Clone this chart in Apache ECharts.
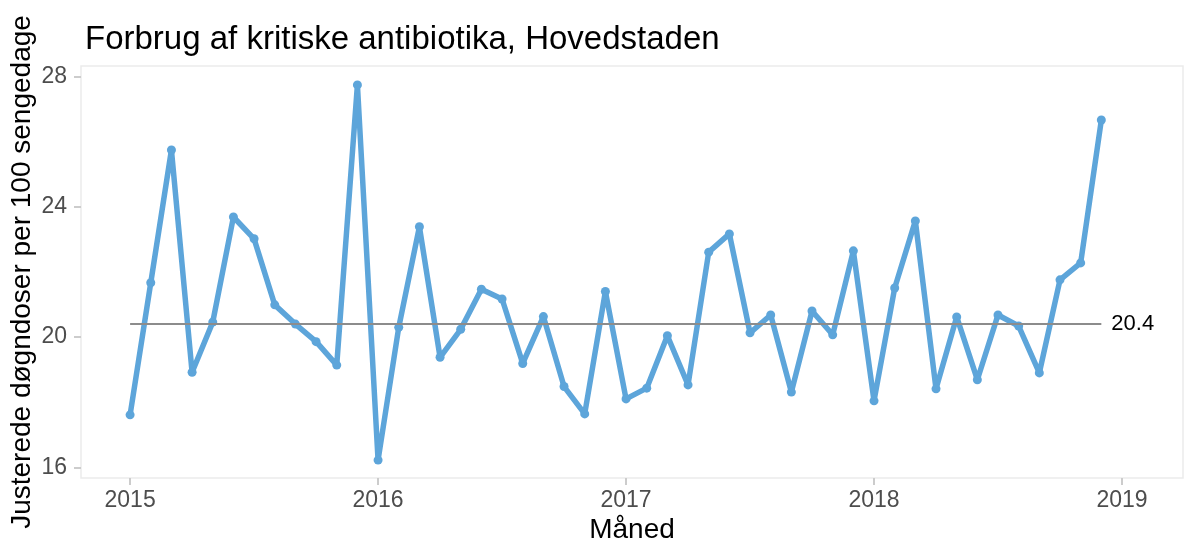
<!DOCTYPE html>
<html>
<head>
<meta charset="utf-8">
<script src="https://cdn.jsdelivr.net/npm/echarts@6/dist/echarts.min.js"></script>
<style>
  html, body { margin: 0; padding: 0; background: #fff; }
  #chart { width: 1184px; height: 551px; }
</style>
</head>
<body>
<div id="chart"></div>
<script>
// monthly values Jan 2015 - Dec 2018
var startYear = 2015;
var values = [
    17.61, 21.67, 25.75, 18.92, 20.46, 23.69, 23.02, 20.99, 20.40, 19.86, 19.14, 27.75,
    16.22, 20.30, 23.39, 19.38, 20.24, 21.47, 21.17, 19.19, 20.63, 18.48, 17.64, 21.40,
    18.10, 18.43, 20.04, 18.53, 22.61, 23.17, 20.13, 20.68, 18.31, 20.80, 20.07, 22.65,
    18.04, 21.51, 23.57, 18.41, 20.62, 18.69, 20.68, 20.34, 18.90, 21.76, 22.28, 26.67
];
var median = 20.4;
var xTicks = [2015, 2016, 2017, 2018, 2019];
var yTicks = [16, 20, 24, 28];

var seriesData = values.map(function (v, i) {
    return [startYear + i / 12, v];
});
var lastX = startYear + (values.length - 1) / 12;

var font = 'Liberation Sans, Arial, sans-serif';
var lineColor = '#5DA5DA';

var chart = echarts.init(document.getElementById('chart'));
var option = {
    animation: false,
    title: {
        text: 'Forbrug af kritiske antibiotika, Hovedstaden',
        left: 80,
        top: 18,
        textStyle: { fontFamily: font, fontSize: 33, fontWeight: 'normal', color: '#000' }
    },
    grid: {
        left: 81, right: 1, top: 66, bottom: 73,
        containLabel: false,
        outerBoundsMode: 'none',
        show: true, borderColor: '#ebebeb', borderWidth: 1.5, backgroundColor: '#fff'
    },
    xAxis: {
        type: 'value',
        min: 2014.802,
        max: 2019.246,
        name: 'Måned',
        nameLocation: 'middle',
        nameGap: 38,
        nameMoveOverlap: false,
        nameTextStyle: { fontFamily: font, fontSize: 28, color: '#000' },
        axisLine: { show: false },
        axisTick: { show: true, length: 7, lineStyle: { color: '#cccccc', width: 2 }, customValues: xTicks },
        axisLabel: {
            fontFamily: font, fontSize: 23, color: '#4d4d4d', margin: 11, customValues: xTicks,
            formatter: function (v) { return String(Math.round(v)); }
        },
        splitLine: { show: false }
    },
    yAxis: {
        type: 'value',
        min: 15.67,
        max: 28.33,
        name: 'Justerede døgndoser per 100 sengedage',
        nameLocation: 'middle',
        nameGap: 45,
        nameMoveOverlap: false,
        nameTextStyle: { fontFamily: font, fontSize: 28, color: '#000' },
        axisLine: { show: false },
        axisTick: { show: true, length: 7, lineStyle: { color: '#cccccc', width: 2 }, customValues: yTicks },
        axisLabel: { fontFamily: font, fontSize: 23, color: '#4d4d4d', margin: 14, customValues: yTicks },
        splitLine: { show: false }
    },
    series: [{
        type: 'line',
        data: seriesData,
        symbol: 'circle',
        symbolSize: 9,
        lineStyle: { color: lineColor, width: 5.5 },
        itemStyle: { color: lineColor },
        markLine: {
            silent: true,
            symbol: 'none',
            lineStyle: { color: '#8c8c8c', width: 2.2, type: 'solid' },
            label: {
                show: true, position: 'end', distance: 10,
                formatter: String(median),
                fontFamily: font, fontSize: 22, color: '#000'
            },
            data: [[{ coord: [startYear, median] }, { coord: [lastX, median] }]]
        },
        z: 3
    }]
};
chart.setOption(option);
</script>
</body>
</html>
